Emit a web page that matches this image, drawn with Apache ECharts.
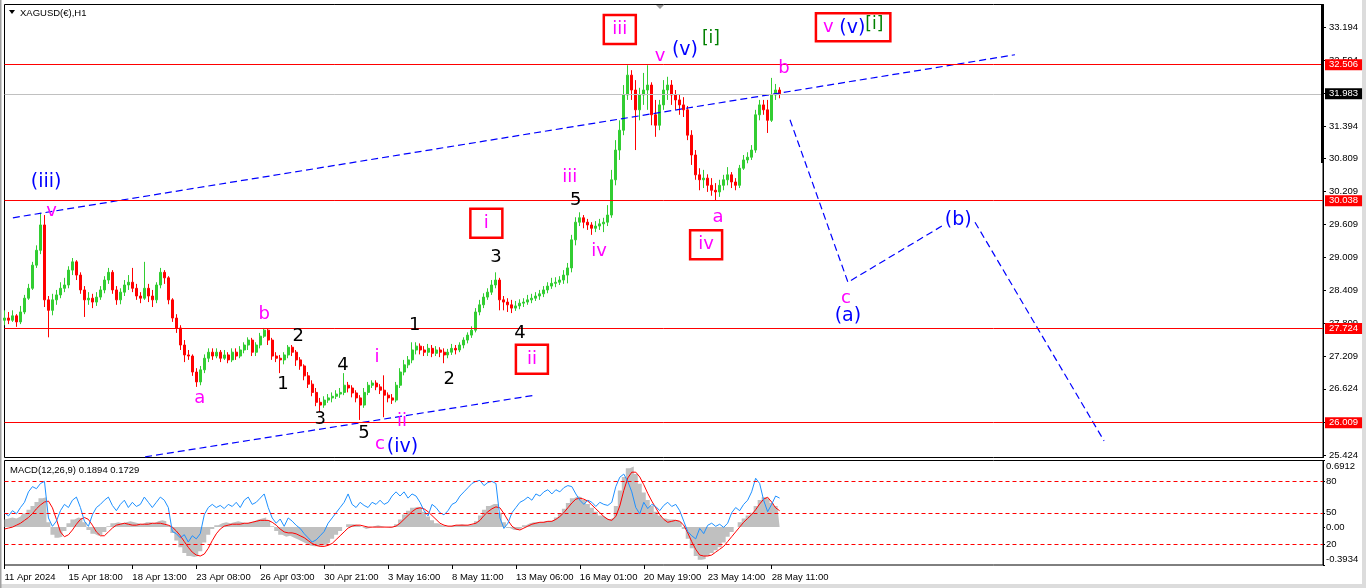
<!DOCTYPE html>
<html><head><meta charset="utf-8">
<script src="https://cdn.jsdelivr.net/npm/echarts@6/dist/echarts.min.js"></script>
<style>html,body{margin:0;padding:0;background:#fff;overflow:hidden}#c{width:1366px;height:588px}</style>
</head><body><div id="c"></div>
<script>
// ---------------- data ----------------
const timeLabels = ['11 Apr 2024','15 Apr 18:00','18 Apr 13:00','23 Apr 08:00','26 Apr 03:00','30 Apr 21:00','3 May 16:00','8 May 11:00','13 May 06:00','16 May 01:00','20 May 19:00','23 May 14:00','28 May 11:00'];
const priceTicks = [33.194,32.594,31.994,31.394,30.809,30.209,29.609,29.009,28.409,27.809,27.209,26.624,26.024,25.424];
const levels = [32.506, 30.038, 27.724, 26.009];
const bidPrice = 31.983;

const open = [27.87,27.91,27.87,27.95,27.84,28.02,28.27,28.45,28.87,29.14,
29.60,28.24,28.05,28.24,28.33,28.45,28.51,28.78,28.93,28.69,
28.42,28.24,28.27,28.20,28.29,28.42,28.60,28.74,28.42,28.24,
28.38,28.51,28.56,28.45,28.31,28.27,28.45,28.31,28.24,28.51,
28.74,28.64,28.24,27.91,27.73,27.42,27.24,27.22,26.93,26.75,
26.97,27.18,27.29,27.22,27.29,27.18,27.24,27.15,27.29,27.22,
27.33,27.42,27.51,27.29,27.42,27.58,27.69,27.51,27.22,27.18,
27.15,27.24,27.38,27.29,27.15,27.04,26.86,26.71,26.56,26.38,
26.33,26.42,26.46,26.49,26.53,26.56,26.69,26.64,26.55,26.46,
26.33,26.56,26.69,26.73,26.66,26.60,26.51,26.46,26.42,26.69,
26.93,27.06,27.15,27.33,27.40,27.33,27.29,27.36,27.27,27.33,
27.29,27.24,27.29,27.36,27.33,27.42,27.51,27.60,27.69,28.02,
28.15,28.29,28.38,28.51,28.60,28.24,28.20,28.15,28.09,28.13,
28.18,28.20,28.24,28.27,28.31,28.35,28.42,28.49,28.54,28.56,
28.60,28.69,28.82,29.33,29.65,29.73,29.65,29.60,29.54,29.58,
29.62,29.65,29.78,30.42,30.96,31.32,31.96,32.32,32.05,31.69,
31.96,32.05,32.14,31.60,31.41,31.78,32.05,32.14,31.96,31.87,
31.78,31.69,31.23,30.87,30.51,30.42,30.45,30.32,30.23,30.20,
30.32,30.42,30.51,30.38,30.32,30.63,30.78,30.83,30.96,31.60,
31.78,31.69,31.50,31.96,32.05];
const close = [27.91,27.87,27.95,27.84,28.02,28.27,28.45,28.87,29.14,29.60,
28.24,28.05,28.24,28.33,28.45,28.51,28.78,28.93,28.69,28.42,
28.24,28.27,28.20,28.29,28.42,28.60,28.74,28.42,28.24,28.38,
28.51,28.56,28.45,28.31,28.27,28.45,28.31,28.24,28.51,28.74,
28.64,28.24,27.91,27.73,27.42,27.24,27.22,26.93,26.75,26.97,
27.18,27.29,27.22,27.29,27.18,27.24,27.15,27.29,27.22,27.33,
27.42,27.51,27.29,27.42,27.58,27.69,27.51,27.22,27.18,27.15,
27.24,27.38,27.29,27.15,27.04,26.86,26.71,26.56,26.38,26.33,
26.42,26.46,26.49,26.53,26.56,26.69,26.64,26.55,26.46,26.33,
26.56,26.69,26.73,26.66,26.60,26.51,26.46,26.42,26.69,26.93,
27.06,27.15,27.33,27.40,27.33,27.29,27.36,27.27,27.33,27.29,
27.24,27.29,27.36,27.33,27.42,27.51,27.60,27.69,28.02,28.15,
28.29,28.38,28.51,28.60,28.24,28.20,28.15,28.09,28.13,28.18,
28.20,28.24,28.27,28.31,28.35,28.42,28.49,28.54,28.56,28.60,
28.69,28.82,29.33,29.65,29.73,29.65,29.60,29.54,29.58,29.62,
29.65,29.78,30.42,30.96,31.32,31.96,32.32,32.05,31.69,31.96,
32.05,32.14,31.60,31.41,31.78,32.05,32.14,31.96,31.87,31.78,
31.69,31.23,30.87,30.51,30.42,30.45,30.32,30.23,30.20,30.32,
30.42,30.51,30.38,30.32,30.63,30.78,30.83,30.96,31.60,31.78,
31.69,31.50,31.96,32.05,31.98];
const high = [28.05,28.02,28.05,27.98,28.13,28.33,28.53,28.93,29.23,29.82,
29.78,28.31,28.35,28.42,28.56,28.64,28.85,29.00,28.96,28.74,
28.49,28.38,28.35,28.38,28.49,28.67,28.82,28.78,28.49,28.45,
28.60,28.69,28.82,28.53,28.38,28.93,28.53,28.42,28.56,28.82,
28.78,28.67,28.27,27.98,27.78,27.51,27.33,27.25,27.00,27.04,
27.25,27.36,27.36,27.36,27.33,27.33,27.29,27.36,27.36,27.40,
27.47,27.56,27.55,27.47,27.64,27.73,27.71,27.55,27.29,27.24,
27.29,27.42,27.42,27.33,27.20,27.07,26.93,26.78,26.64,26.46,
26.49,26.53,26.56,26.60,26.64,26.91,26.75,26.69,26.60,26.51,
26.64,26.75,26.78,26.78,26.71,26.87,26.56,26.53,26.75,27.00,
27.15,27.22,27.47,27.47,27.45,27.40,27.44,27.42,27.40,27.38,
27.36,27.35,27.44,27.42,27.47,27.56,27.65,27.76,28.09,28.24,
28.36,28.45,28.60,28.74,28.64,28.31,28.27,28.24,28.22,28.25,
28.27,28.33,28.35,28.38,28.42,28.49,28.56,28.64,28.65,28.67,
28.78,28.91,29.42,29.74,29.83,29.78,29.71,29.65,29.67,29.71,
29.73,29.96,30.60,31.14,31.50,32.14,32.50,32.41,32.23,32.09,
32.36,32.50,32.19,31.87,31.87,32.23,32.29,32.23,32.05,31.96,
31.92,31.76,31.32,30.96,30.63,30.60,30.52,30.45,30.36,30.42,
30.51,30.65,30.56,30.45,30.69,30.87,30.92,31.05,31.69,31.87,
31.87,31.87,32.27,32.16,32.10];
const low = [27.78,27.80,27.84,27.75,27.80,27.98,28.24,28.42,28.82,29.07,
28.11,27.56,27.96,28.15,28.27,28.38,28.45,28.69,28.60,28.35,
27.93,28.15,28.09,28.13,28.24,28.36,28.53,28.35,28.15,28.16,
28.31,28.42,28.38,28.24,28.18,28.24,28.20,28.11,28.18,28.45,
28.53,28.16,27.84,27.64,27.33,27.11,27.15,26.86,26.66,26.69,
26.91,27.11,27.15,27.18,27.11,27.15,27.09,27.11,27.15,27.18,
27.27,27.33,27.22,27.22,27.36,27.55,27.42,27.15,27.11,26.91,
27.07,27.18,27.22,27.04,26.97,26.78,26.64,26.49,26.31,26.20,
26.28,26.37,26.38,26.44,26.46,26.51,26.56,26.47,26.38,26.06,
26.28,26.51,26.64,26.60,26.53,26.11,26.38,26.35,26.38,26.64,
26.87,27.00,27.09,27.25,27.25,27.22,27.22,27.20,27.22,27.20,
27.09,27.18,27.24,27.25,27.29,27.36,27.45,27.55,27.65,27.96,
28.09,28.24,28.33,28.45,28.05,28.05,28.02,28.00,28.04,28.07,
28.11,28.15,28.18,28.22,28.24,28.29,28.36,28.44,28.47,28.51,
28.53,28.54,28.74,29.23,29.58,29.54,29.51,29.42,29.47,29.51,
29.47,29.58,29.73,30.32,30.78,31.23,31.87,31.87,30.96,31.50,
31.78,31.69,31.41,31.20,31.32,31.69,31.87,31.78,31.69,31.60,
31.56,31.14,30.69,30.42,30.23,30.27,30.20,30.13,30.05,30.11,
30.23,30.32,30.27,30.23,30.27,30.60,30.72,30.78,30.91,31.50,
31.60,31.27,31.47,31.87,31.90];

const macdMain = [0.08,0.09,0.10,0.09,0.11,0.14,0.18,0.22,0.26,0.30,0.31,
0.05,-0.08,-0.11,-0.10,-0.04,0.04,0.08,0.10,0.09,0.05,
-0.03,-0.07,-0.09,-0.08,-0.05,0.01,0.04,0.05,
0.04,0.05,0.06,0.05,0.04,0.03,0.05,0.05,0.04,0.06,0.07,0.06,0.02,
-0.06,-0.14,-0.21,-0.27,-0.30,-0.31,-0.30,-0.25,-0.16,-0.08,-0.02,
0.02,0.04,0.05,0.04,0.05,0.06,0.05,0.04,0.05,0.06,0.08,0.09,0.10,
0.07,0.01,-0.04,-0.08,-0.10,-0.09,-0.11,-0.13,
-0.15,-0.17,-0.19,-0.20,-0.20,-0.19,-0.18,
-0.16,-0.12,-0.08,-0.04,0.00,0.03,0.03,
0.02,0.00,-0.02,-0.01,0.01,0.02,0.01,0.00,-0.01,0.00,0.03,
0.08,0.13,0.17,0.20,0.21,0.20,0.16,0.11,0.07,0.04,0.02,0.01,
0.01,0.02,0.02,0.03,0.02,0.02,0.03,0.06,
0.12,0.18,0.22,0.24,0.24,0.15,0.05,-0.01,-0.03,-0.03,-0.01,
0.02,0.04,0.05,0.05,0.05,0.06,0.06,0.07,
0.10,0.14,0.19,0.25,0.30,0.32,
0.31,0.28,0.24,0.20,0.16,0.12,0.10,0.08,0.10,
0.22,0.38,0.52,0.61,0.63,0.55,0.45,0.36,0.28,0.22,0.16,0.12,
0.09,0.08,0.08,0.07,0.05,-0.02,-0.12,-0.22,-0.30,-0.34,-0.33,
-0.30,-0.27,-0.24,-0.21,-0.16,-0.10,-0.05,0.00,0.05,0.09,
0.12,0.15,0.22,0.28,0.31,0.29,0.25,0.22,0.19];
const macdSignal = [-0.02,-0.01,0.00,0.02,0.04,0.07,0.10,0.14,0.19,0.23,0.26,
0.27,0.20,0.08,-0.05,-0.10,-0.08,-0.03,0.03,0.08,0.10,
0.08,0.02,-0.05,-0.09,-0.09,-0.05,-0.01,0.02,
0.03,0.04,0.03,0.02,0.02,0.03,0.03,0.03,0.04,0.04,0.04,0.03,0.02,
0.00,-0.04,-0.09,-0.15,-0.21,-0.26,-0.29,-0.30,-0.28,-0.22,-0.14,
-0.07,-0.02,0.01,0.02,0.03,0.03,0.03,0.04,0.04,0.05,0.06,0.07,0.07,
0.07,0.05,0.02,-0.02,-0.05,-0.06,-0.06,-0.07,
-0.09,-0.11,-0.14,-0.17,-0.19,-0.20,-0.20,
-0.19,-0.17,-0.13,-0.09,-0.05,-0.01,0.01,
0.02,0.02,0.01,0.00,0.00,0.00,0.00,0.00,0.00,0.00,0.01,
0.04,0.08,0.12,0.16,0.19,0.20,0.19,0.16,0.12,0.08,0.04,0.02,
0.01,0.01,0.02,0.02,0.02,0.02,0.03,0.04,
0.07,0.12,0.16,0.19,0.21,0.20,0.14,0.07,0.01,-0.02,-0.03,
-0.01,0.01,0.03,0.04,0.05,0.05,0.06,0.06,
0.08,0.11,0.15,0.20,0.25,0.29,
0.30,0.29,0.27,0.23,0.19,0.15,0.11,0.08,0.07,
0.11,0.22,0.38,0.51,0.57,0.57,0.52,0.44,0.35,0.27,0.20,0.13,
0.08,0.05,0.06,0.07,0.06,0.02,-0.06,-0.15,-0.23,-0.29,-0.30,
-0.30,-0.29,-0.26,-0.23,-0.20,-0.15,-0.10,-0.05,0.00,0.05,
0.09,0.13,0.18,0.24,0.29,0.31,0.26,0.20,0.17];
const oscLine = [50,47,52,49,55,60,70,75,73,78,80,
45,37,42,52,58,55,62,65,55,42,37,48,
55,58,62,65,57,52,58,62,55,60,56,58,65,60,
55,60,65,62,55,32,30,26,29,22,28,25,30,48,55,58,
55,57,54,58,56,60,55,62,65,58,60,64,68,
55,45,40,44,37,45,42,38,35,30,26,22,24,
28,32,40,45,50,55,60,68,
58,55,60,57,55,60,58,62,58,60,66,70,
66,70,64,68,66,60,52,47,58,55,50,48,
52,58,60,66,70,74,78,80,81,76,79,80,78,45,
35,40,50,55,60,62,65,62,68,66,70,72,68,
72,70,74,76,75,68,62,58,62,60,56,60,58,57,60,
75,84,87,80,70,55,49,60,54,58,56,52,
57,60,56,58,52,42,32,28,25,35,30,
38,40,37,39,36,40,50,55,52,58,
62,70,83,78,62,51,58,66,64];
const oscLevels = [80, 50, 20];
const macdAxisLabels = [0.6912, 0, -0.3934];

// trend / projection lines: [bar index, price]
const upperTrend = [[2.1, 29.73], [252.9, 32.69]];
const lowerTrend = [[35.2, 25.39], [132.8, 26.51]];
const projectionA = [[196.6, 31.51], [211.1, 28.56], [234.6, 29.58]];
const projectionB = [[242.9, 29.65], [275.2, 25.68]];

// wave labels: [text, bar index, price, kind]
const waveLabels = [
 ['(iii)', 10.4, 30.37, 'blue'], ['v', 11.8, 29.85, 'mag'],
 ['a', 48.9, 26.46, 'mag'], ['b', 65.0, 27.97, 'mag'],
 ['1', 69.7, 26.71, 'blk'], ['2', 73.5, 27.57, 'blk'], ['3', 79.0, 26.08, 'blk'],
 ['4', 84.7, 27.06, 'blk'], ['5', 90.0, 25.81, 'blk'],
 ['i', 93.2, 27.19, 'mag'], ['c', 94.0, 25.62, 'mag'], ['ii', 99.5, 26.04, 'mag'],
 ['(iv)', 99.6, 25.57, 'blue'],
 ['1', 102.7, 27.78, 'blk'], ['2', 111.3, 26.80, 'blk'], ['i', 120.6, 29.63, 'box'],
 ['3', 123.0, 29.02, 'blk'], ['4', 129.0, 27.64, 'blk'], ['ii', 132.0, 27.16, 'box'],
 ['iii', 141.5, 30.47, 'mag'], ['5', 143.0, 30.05, 'blk'], ['iv', 148.8, 29.13, 'mag'],
 ['iii', 154.0, 33.15, 'box'], ['v', 164.1, 32.66, 'mag'], ['(v)', 170.3, 32.78, 'blue'],
 ['[i]', 176.8, 32.99, 'green'], ['iv', 175.6, 29.24, 'box'], ['a', 178.6, 29.74, 'mag'],
 ['b', 195.1, 32.45, 'mag'], ['v (v)[i]', 212.4, 33.19, 'boxmulti'],
 ['c', 210.6, 28.27, 'mag'], ['(a)', 211.1, 27.95, 'blue'], ['(b)', 238.7, 29.69, 'blue']
];

// ---------------- chart ----------------
const SLOTS = 331;
const slots = Array.from({length: SLOTS}, (_, i) => String(i));
const F = '"Liberation Sans", Arial, sans-serif';
const FW = '"DejaVu Sans", sans-serif';
const FS = 9.5;
const C = {mag:'#FF00FF', blue:'#0000FF', blk:'#000000', green:'#008000', red:'#FF0000'};

const candles = open.map((o, i) => [o, close[i], low[i], high[i]]);

function waveItem(w) {
  const [text, x, y, kind] = w;
  const base = {show:true, position:'inside', fontFamily:FW, fontSize:18, formatter:text,
    opacity:1, textBorderWidth:0, textBorderColor:'transparent', textShadowBlur:0};
  if (kind === 'blue') Object.assign(base, {color:C.blue, fontSize:19});
  else if (kind === 'green') Object.assign(base, {color:C.green, fontSize:17});
  else if (kind === 'blk') Object.assign(base, {color:C.blk});
  else if (kind === 'mag') Object.assign(base, {color:C.mag});
  else if (kind === 'box') Object.assign(base, {color:C.mag, width:32, height:29, lineHeight:29, align:'center', verticalAlign:'middle', borderColor:C.red, borderWidth:2.5});
  else if (kind === 'boxmulti') Object.assign(base, {
    formatter:'{m|v} {b|(v)}{g|[i]}', borderColor:C.red, borderWidth:2.5, padding:[3,7,2,7],
    rich:{m:{color:C.mag, fontSize:18, fontFamily:FW, textBorderWidth:0},
          b:{color:C.blue, fontSize:19, fontFamily:FW, textBorderWidth:0},
          g:{color:C.green, fontSize:17, fontFamily:FW, textBorderWidth:0, padding:[0,0,6,0]}}
  });
  return {value:[x, y], label:base};
}

function dashed(data) {
  return {type:'line', xAxisIndex:2, yAxisIndex:0, data, symbol:'none', silent:true,
    lineStyle:{color:'#0000FF', width:1.2, type:[7,4]}, z:4};
}

const levelLines = levels.map(v => ({yAxis:v, name:v.toFixed(3), lineStyle:{color:C.red, width:1, type:'solid'},
  label:{backgroundColor:C.red, color:'#fff'}}));
levelLines.push({yAxis:bidPrice, name:bidPrice.toFixed(3), lineStyle:{color:'#C0C0C0', width:1, type:'solid'},
  label:{backgroundColor:'#000', color:'#fff'}});

const tickAt = (i) => i % 16 === 0 && i / 16 < timeLabels.length;

const option = {
  animation:false,
  backgroundColor:'#fff',
  grid:[
    {left:4.5, right:43, top:4.5, bottom:130.5, show:true, borderColor:'#000', borderWidth:1, backgroundColor:'#fff', containLabel:false, outerBoundsMode:'none'},
    {left:4.5, right:43, top:460.5, bottom:23, show:true, borderColor:'#000', borderWidth:1, backgroundColor:'#fff', containLabel:false, outerBoundsMode:'none'}
  ],
  xAxis:[
    {type:'category', gridIndex:0, data:slots, boundaryGap:false, axisLine:{show:false, onZero:false}, axisTick:{show:false}, axisLabel:{show:false}, splitLine:{show:false}},
    {type:'category', gridIndex:1, data:slots, boundaryGap:false, axisLine:{show:false, onZero:false},
      axisTick:{show:true, interval:tickAt, length:4, lineStyle:{color:'#000'}},
      axisLabel:{interval:tickAt, align:'left', margin:7, fontSize:FS, color:'#000', fontFamily:F,
        formatter:(v, i) => tickAt(i) ? timeLabels[i / 16] : ''},
      splitLine:{show:false}},
    {type:'value', gridIndex:0, min:0, max:SLOTS - 1, show:false, axisLine:{onZero:false}, splitLine:{show:false}}
  ],
  yAxis:[
    {type:'value', gridIndex:0, position:'right', min:25.378, max:33.6025, scale:true,
      splitLine:{show:false}, axisLine:{show:true, onZero:false, lineStyle:{color:'#000'}},
      axisTick:{show:true, length:3, lineStyle:{color:'#000'}, customValues:priceTicks},
      axisLabel:{customValues:priceTicks, formatter:v => v.toFixed(3), fontSize:FS, color:'#000', fontFamily:F, margin:6}},
    {type:'value', gridIndex:1, position:'right', min:-0.3934, max:0.6912, scale:true,
      splitLine:{show:false}, axisLine:{show:true, onZero:false, lineStyle:{color:'#000'}},
      axisTick:{show:true, length:2, lineStyle:{color:'#000'}, customValues:macdAxisLabels},
      axisLabel:{customValues:macdAxisLabels, fontSize:FS, color:'#000', fontFamily:F, margin:3,
        formatter:v => v > 0.5 ? '{t|0.6912}' : (v < -0.3 ? '{b|-0.3934}' : '0.00'),
        rich:{t:{padding:[12,0,0,0], fontSize:FS, color:'#000', fontFamily:F}, b:{padding:[0,0,12,0], fontSize:FS, color:'#000', fontFamily:F}}}},
    {type:'value', gridIndex:1, position:'right', min:0, max:100,
      splitLine:{show:false}, axisLine:{show:false, onZero:false},
      axisTick:{show:true, length:2, lineStyle:{color:'#000'}, customValues:oscLevels},
      axisLabel:{customValues:oscLevels, fontSize:FS, color:'#000', fontFamily:F, margin:3}}
  ],
  series:[
    {type:'candlestick', xAxisIndex:0, yAxisIndex:0, data:candles, barWidth:2.5,
      itemStyle:{color:'#32CD32', color0:'#FF0000', borderColor:'#32CD32', borderColor0:'#FF0000', borderWidth:1},
      markLine:{silent:true, symbol:['none','none'], animation:false,
        label:{position:'end', distance:2, formatter:'{b}', fontSize:FS, fontFamily:F, padding:[1,4,0,4]},
        data:levelLines}, z:3},
    dashed(upperTrend), dashed(lowerTrend), dashed(projectionA), dashed(projectionB),
    {type:'scatter', xAxisIndex:2, yAxisIndex:0, symbolSize:2, itemStyle:{color:'rgba(0,0,0,0)'}, silent:true, z:6,
      emphasis:{disabled:true}, data:waveLabels.map(waveItem)},
    {type:'line', xAxisIndex:1, yAxisIndex:1, data:macdMain, step:'middle', symbol:'none', silent:true, z:2,
      lineStyle:{width:0, color:'#C0C0C0'}, itemStyle:{color:'#C0C0C0'},
      areaStyle:{color:'#C0C0C0', opacity:1, origin:0}},
    {type:'line', xAxisIndex:1, yAxisIndex:1, data:macdSignal, symbol:'none', lineStyle:{color:'#FF0000', width:1}, silent:true, z:3},
    {type:'line', xAxisIndex:1, yAxisIndex:2, data:oscLine, symbol:'none', lineStyle:{color:'#1E90FF', width:1}, silent:true, z:4,
      markLine:{silent:true, symbol:['none','none'], label:{show:false},
        lineStyle:{color:'#FF0000', type:[4,3], width:1}, data:oscLevels.map(v => ({yAxis:v}))}}
  ],
  graphic:[
    {type:'rect', left:1362, top:0, shape:{width:4, height:588}, style:{fill:'#dcdcdc'}, silent:true},
    {type:'rect', left:0, top:584, shape:{width:1366, height:4}, style:{fill:'#dcdcdc'}, silent:true},
    {type:'rect', left:0, top:0, shape:{width:1.5, height:588}, style:{fill:'#a0a0a0'}, silent:true},
    {type:'rect', left:1321, top:5, shape:{width:3, height:158}, style:{fill:'#000'}, silent:true, z:10},
    {type:'polygon', shape:{points:[[9,10],[15,10],[12,14]]}, style:{fill:'#000'}, silent:true, z:10},
    {type:'polygon', shape:{points:[[656,5],[664,5],[660,9]]}, style:{fill:'#999'}, silent:true, z:10},
    {type:'text', left:20, top:8, style:{text:'XAGUSD(€),H1', font:FS + 'px ' + F, fill:'#000'}, silent:true, z:10},
    {type:'text', left:10, top:465, style:{text:'MACD(12,26,9) 0.1894 0.1729', font:FS + 'px ' + F, fill:'#000'}, silent:true, z:10}
  ]
};
const chart = echarts.init(document.getElementById('c'), null, {renderer:'canvas'});
chart.setOption(option);
</script>
</body></html>
